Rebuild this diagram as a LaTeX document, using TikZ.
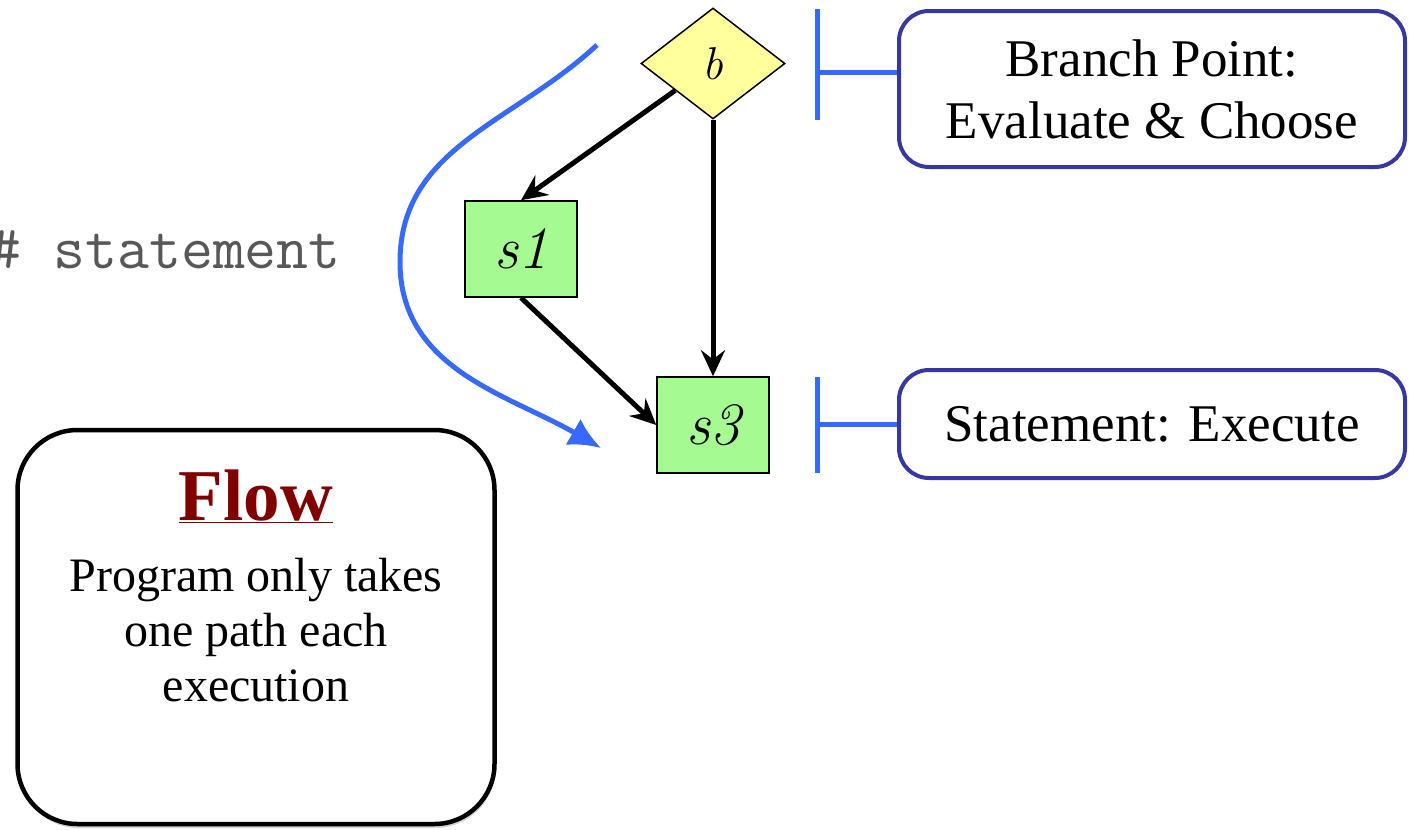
\documentclass[tikz,border=0pt]{standalone}
\usepackage{fontspec}
\setmainfont{Liberation Serif}
\newfontfamily\lmfont{Latin Modern Roman}
\usetikzlibrary{arrows.meta,shapes.geometric,shadows}

\definecolor{flowblue}{RGB}{55,105,255}
\definecolor{noteblue}{RGB}{55,55,160}
\definecolor{condyellow}{RGB}{255,255,155}
\definecolor{stmtgreen}{RGB}{165,250,145}
\definecolor{flowred}{RGB}{128,0,0}
\definecolor{typegray}{RGB}{88,88,88}

\begin{document}
\begin{tikzpicture}[x=1pt,y=1pt,
	cond/.style={diamond,draw,line width=1.5pt,fill=condyellow,minimum width=144pt,minimum height=111pt,inner sep=0pt,font=\lmfont\itshape\fontsize{46}{46}\selectfont},
	stmt/.style={rectangle,draw,line width=1.5pt,fill=stmtgreen,minimum width=112pt,minimum height=96pt,inner sep=0pt,font=\lmfont\itshape\fontsize{60}{60}\selectfont},
	ctrl/.style={line width=5pt,-{Stealth[length=26pt,width=24pt,inset=9pt]}},
	note/.style={draw=noteblue,line width=4pt,rounded corners=30pt,minimum width=506pt,align=center,inner sep=0pt,font=\fontsize{53}{62}\selectfont},
	tie/.style={draw=flowblue,line width=5pt},
	pathline/.style={draw=flowblue,line width=5pt,-{Latex[length=32pt,width=30pt]}}]
	\useasboundingbox (0,0) rectangle (1409,-830);

	\node[cond] (b) at (713,-63.5) {b};
	\node[stmt] (s1) at (521,-249) {s1};
	\node[stmt] (s3) at (713,-425) {s3};
	\draw[ctrl] (b) -- (s1.north);
	\draw[ctrl] (b.south) -- (s3.north);
	\draw[ctrl] (s1.south) -- (s3.west);

	\node[anchor=base west,text=typegray,font=\ttfamily\fontsize{62}{62}\selectfont] (label) at (-14,-268) {\# statement};

	\coordinate (cstart) at (597,-45);
	\coordinate (cleft) at (400,-262);
	\coordinate (cend) at (601,-448);
	\draw[pathline] (cstart) to[out=223,in=90] (cleft) to[out=-90,in=150] (cend);

	\node[note,minimum height=156pt] (branch) at (1152,-89) {Branch Point:\\Evaluate \& Choose};
	\node[note,minimum height=108pt] (execute) at (1152,-424) {Statement: Execute};
	\coordinate (bt) at (817,-9);
	\coordinate (bm) at (817,-72);
	\coordinate (bb) at (817,-120);
	\coordinate (st) at (817,-377);
	\coordinate (sm) at (817,-424);
	\coordinate (sb) at (817,-473);
	\draw[tie] (bt) -- (bb);
	\draw[tie] (bm) -- (bm -| branch.west);
	\draw[tie] (st) -- (sb);
	\draw[tie] (sm) -- (execute.west);

	\node[draw,line width=4.5pt,rounded corners=60pt,fill=white,minimum width=477pt,minimum height=394pt,
		drop shadow={shadow xshift=1pt,shadow yshift=-4pt,opacity=0.35}] (flow) at (256,-627) {};
	\node[anchor=base,text=flowred,font=\bfseries\fontsize{73}{73}\selectfont] (flowtitle) at (256,-520) {\underline{Flow}};
	\node[anchor=north,align=center,inner sep=0pt,font=\fontsize{48}{55}\selectfont] (flowtext) at (256,-558) {Program only takes\\one path each\\execution};
\end{tikzpicture}
\end{document}
